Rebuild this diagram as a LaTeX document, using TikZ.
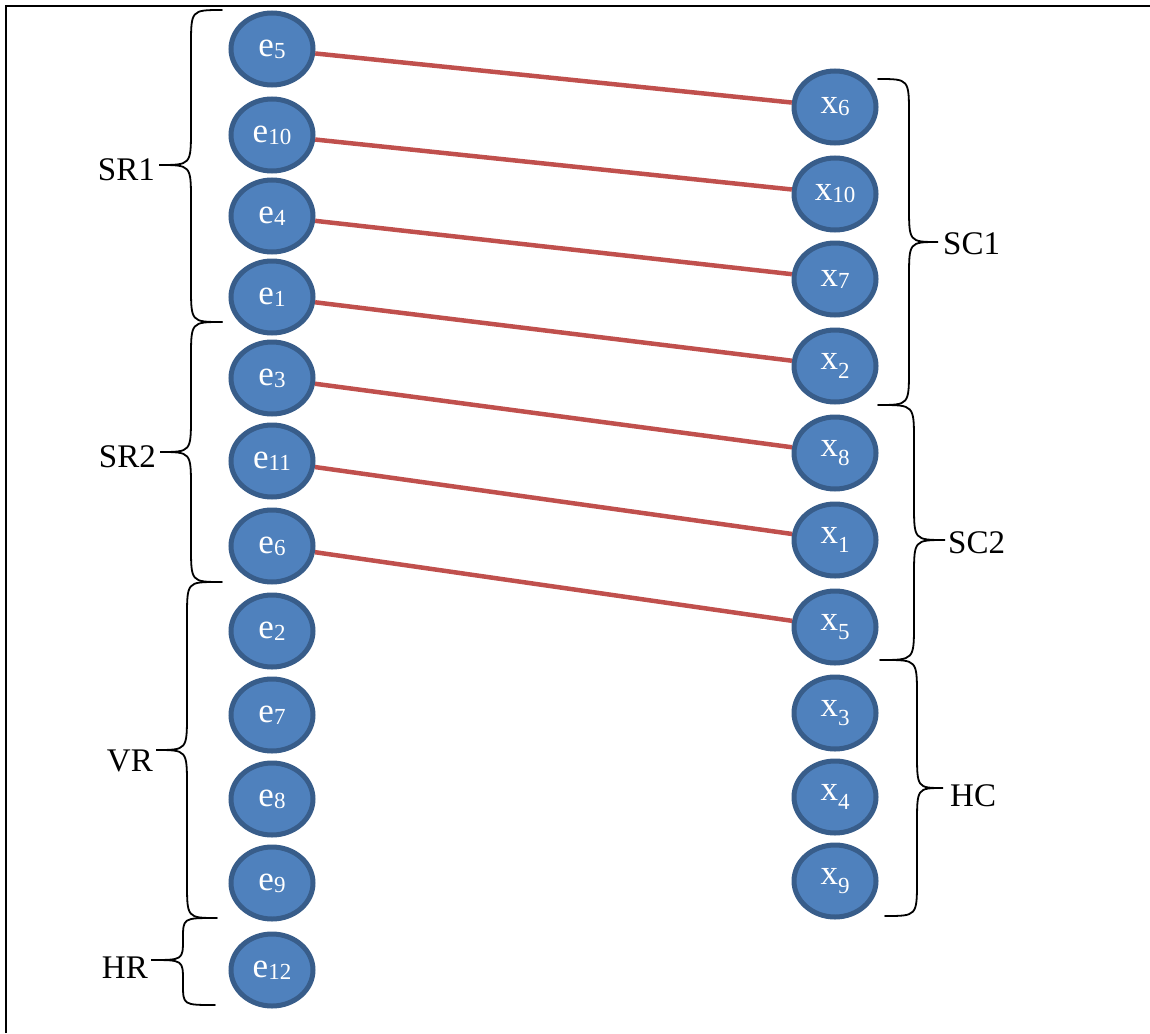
\documentclass[tikz,border=0pt]{standalone}
\usepackage{fontspec}
\setmainfont{Liberation Serif}
\usetikzlibrary{shapes.geometric}

\definecolor{cellblue}{HTML}{4F81BD}
\definecolor{cellrim}{HTML}{385D8A}
\definecolor{linkred}{HTML}{C0504D}

\tikzset{
  cell/.style={ellipse, draw=cellrim, fill=cellblue, line width=5pt,
    minimum width=82pt, minimum height=72pt, inner sep=0pt,
    text=white, font=\fontsize{35}{35}\selectfont},
  link/.style={linkred, line width=4.5pt},
  brace line/.style={line width=1.8pt, line cap=round},
  group/.style={font=\fontsize{33}{33}\selectfont, inner sep=0pt},
}

% index set small, dropped by #1 pt
\newcommand{\idx}[2]{\raisebox{-#1pt}{\fontsize{23}{23}\selectfont #2}}

% curly brace: end x, stem x, tip x, top y, tip y, bottom y, curl size
\newcommand{\curly}[7]{%
  \draw[brace line] (#1,#4) .. controls (#2,#4) .. (#2,{#4+#7})
    -- (#2,{#5-#7}) .. controls (#2,#5) .. (#3,#5)
    .. controls (#2,#5) .. (#2,{#5+#7})
    -- (#2,{#6-#7}) .. controls (#2,#6) .. (#1,#6);}

\begin{document}
\begin{tikzpicture}[x=1pt,y=-1pt]
    \useasboundingbox (0,0) rectangle (1150,1033);
    % ~~~~ cell frame ~~~~ %
    \draw[line width=2pt] (6,1033) -- (6,6) -- (1150,6);

    % ~~~~ e column ~~~~ %
    \foreach \n/\y in {5/49,10/135,4/216,1/297,3/378,11/461,6/546,2/631,7/715,8/799,9/883,12/970}
        \node[cell] (e\n) at (272,\y) {e\idx{2}{\n}};

    % ~~~~ x column ~~~~ %
    \foreach \n/\y/\d in {6/107/2,10/194/2,7/279/2,2/366/9,8/453/9,1/540/9,5/627/9,3/713/9,4/797/9,9/881/9}
        \node[cell] (x\n) at (835,\y) {x\idx{\d}{\n}};

    % ~~~~ pairs ~~~~ %
    \foreach \a/\b in {5/6,10/10,4/7,1/2,3/8,11/1,6/5}
        \draw[link] (e\a) -- (x\b);

    % ~~~~ row groups ~~~~ %
    \curly{222}{191}{159}{10}{165}{322}{36}
    \curly{222}{191}{160}{322}{452}{582}{36}
    \curly{217}{187}{156}{582}{750}{918}{36}
    \curly{215}{183}{151}{918}{960}{1005}{21}
    \node[group, anchor=base east] (sr1) at (155,180) {SR1};
    \node[group, anchor=base east] (sr2) at (156,467) {SR2};
    \node[group, anchor=base east] (vr) at (153,771) {VR};
    \node[group, anchor=base east] (hr) at (148,978) {HR};

    % ~~~~ column groups ~~~~ %
    \curly{878}{909}{938}{79}{242}{405}{36}
    \curly{880}{914}{945}{405}{540}{660}{36}
    \curly{885}{917}{943}{660}{788}{916}{36}
    \node[group, anchor=base west] (sc1) at (943,254) {SC1};
    \node[group, anchor=base west] (sc2) at (948,553) {SC2};
    \node[group, anchor=base west] (hc) at (950,806) {HC};
\end{tikzpicture}
\end{document}
